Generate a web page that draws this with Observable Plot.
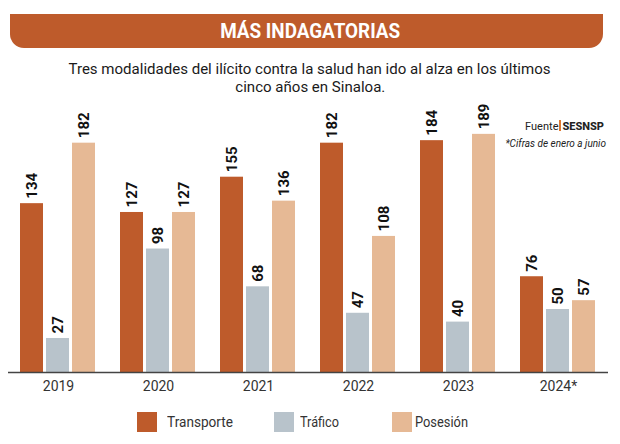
<!DOCTYPE html>
<html><head><meta charset="utf-8">
<script src="https://cdn.jsdelivr.net/npm/d3@7"></script>
<script src="https://cdn.jsdelivr.net/npm/@observablehq/plot@0.6"></script>
<style>
body{margin:0;background:#fff;font-family:Roboto,"Noto Sans",sans-serif;color:#222;}
#wrap{position:relative;width:620px;height:444px;overflow:hidden;}
#banner{position:absolute;left:10px;top:14px;width:593px;height:34px;background:#BE5B2B;border-radius:0 0 14px 14px;}
.row{position:absolute;left:0;width:620px;text-align:center;white-space:nowrap;}
.row span{display:inline-block;transform-origin:center;}
#title{top:19px;color:#fff;font-weight:700;font-size:21px;line-height:24px;}
#sub1{top:60px;font-size:15.5px;line-height:18px;color:#1a1a1a;}
#sub2{top:78px;font-size:15.5px;line-height:18px;color:#1a1a1a;}
#src{position:absolute;right:16px;top:120px;font-size:11px;line-height:14px;color:#222;white-space:nowrap;}
#src b{font-weight:800;}
#src i.bar{display:inline-block;width:2px;height:11px;background:#E0782F;vertical-align:-1px;margin:0 1px;}
#note{position:absolute;right:14px;top:137px;font-size:10px;line-height:13px;font-style:italic;color:#222;white-space:nowrap;}
#chart{position:absolute;left:0;top:100px;}
.sw{position:absolute;width:20px;height:20px;top:412px;}
.lt{position:absolute;top:413px;font-size:15px;line-height:18px;color:#333;white-space:nowrap;transform-origin:left center;}
</style></head>
<body>
<div id="wrap">
  <div id="banner"></div>
  <div class="row" id="title"><span>MÁS INDAGATORIAS</span></div>
  <div class="row" id="sub1"><span>Tres modalidades del ilícito contra la salud han ido al alza en los últimos</span></div>
  <div class="row" id="sub2"><span>cinco años en Sinaloa.</span></div>
  <div id="src">Fuente<i class="bar"></i><b>SESNSP</b></div>
  <div id="note">*Cifras de enero a junio</div>
  <div id="chart"></div>
</div>
<script>
const years = ["2019", "2020", "2021", "2022", "2023", "2024*"];
const series = ["Transporte", "Tráfico", "Posesión"];
const transporte = [134, 127, 155, 182, 184, 76];
const trafico = [27, 98, 68, 47, 40, 50];
const posesion = [182, 127, 136, 108, 189, 57];
const colors = ["#BE5B2B", "#B8C3CB", "#E6B995"];

const values = [transporte, trafico, posesion];
const data = years.flatMap((year, i) => series.map((serie, j) => ({year, serie, value: values[j][i]})));

const chart = Plot.plot({
  width: 620,
  height: 300,
  marginTop: 20,
  marginBottom: 28,
  marginLeft: 9,
  marginRight: 14,
  fx: {domain: years, paddingInner: 0.22, paddingOuter: 0.09, axis: "bottom", tickSize: 0, tickPadding: 9, label: null},
  x: {domain: series, paddingInner: 0.111, paddingOuter: 0, axis: null},
  y: {domain: [0, 200], axis: null},
  color: {domain: series, range: colors},
  style: {fontFamily: "Roboto, sans-serif", fontSize: "14px", color: "#333", background: "transparent", overflow: "visible"},
  marks: [
    Plot.barY(data, {fx: "year", x: "serie", y: "value", fill: "serie"}),
    Plot.text(data, {fx: "year", x: "serie", y: "value", text: d => String(d.value), rotate: -90, textAnchor: "start", dy: -5, fontWeight: 700, fontSize: 15, fill: "#111"}),
    Plot.ruleY([0], {stroke: "#444", strokeWidth: 1.5, insetLeft: -11, insetRight: -11})
  ]
});
document.getElementById("chart").appendChild(chart);

// legend
const swX = [137, 274, 392];
const txX = [167, 300, 415];
const txW = [66, 39, 53];
const wrap = document.getElementById("wrap");
series.forEach((s, i) => {
  const sw = document.createElement("div");
  sw.className = "sw"; sw.style.left = swX[i] + "px"; sw.style.background = colors[i];
  wrap.appendChild(sw);
  const t = document.createElement("div");
  t.className = "lt"; t.style.left = txX[i] + "px"; t.textContent = s;
  wrap.appendChild(t);
  const r = t.getBoundingClientRect().width;
  t.style.transform = `scaleX(${txW[i] / r})`;
});

// fit text widths to the reference's condensed type
function fit(sel, w) {
  const el = document.querySelector(sel + " span");
  const r = el.getBoundingClientRect().width;
  const k = w / r;
  el.style.transform = `scaleX(${k})`;
  return k;
}
fit("#title", 180);
const k = fit("#sub1", 482);
document.querySelector("#sub2 span").style.transform = `scaleX(${k})`;
</script>
</body></html>
